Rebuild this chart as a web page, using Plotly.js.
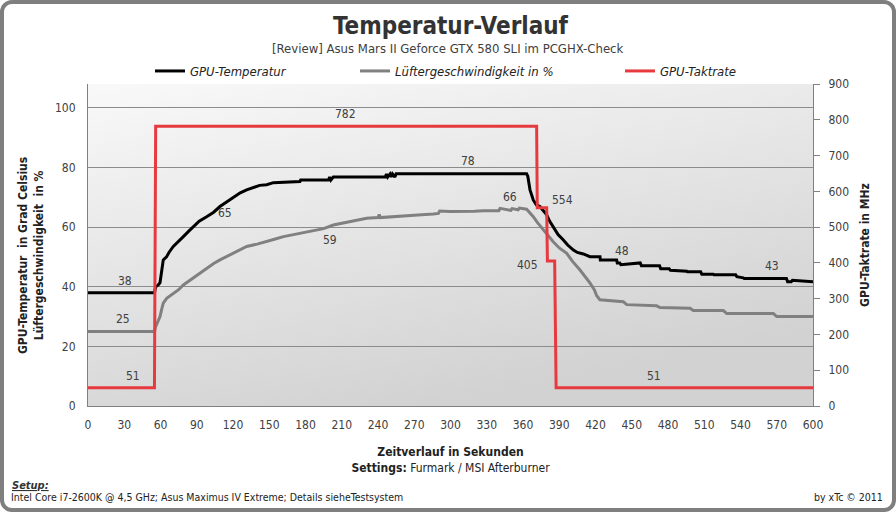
<!DOCTYPE html>
<html>
<head>
<meta charset="utf-8">
<script src="https://cdn.plot.ly/plotly-3.0.1.min.js"></script>
<style>
  html, body { margin: 0; padding: 0; background: #ffffff; }
  #wrap { position: relative; width: 896px; height: 512px; }
  #chart { position: absolute; left: 0; top: 0; width: 896px; height: 512px; }
  #frame { position: absolute; left: 0; top: 0; width: 896px; height: 512px; box-sizing: border-box;
           border: 4px solid #7f7f7f; border-radius: 12px; pointer-events: none; }
</style>
</head>
<body>
<div id="wrap"><div id="chart"></div><div id="frame"></div></div>
<script>
// ---------------- DATA ----------------
// GPU temperature (°C)
const tempTime = [0, 55, 56, 58, 59.6, 61, 62.3, 65, 67, 70.6, 74, 78.9, 83, 87.2, 92, 98.2, 104, 109.2, 115, 120.3, 126, 131.3, 136.8, 142, 147.9, 153.4, 175.4, 176, 199, 200, 201, 203, 215, 246, 247, 248, 250, 251, 252, 254, 255, 363, 364, 365.8, 368.5, 371, 374, 377, 379.6, 382, 385, 389, 393.4, 397, 401.7, 405, 409.9, 415.4, 423.7, 424, 437.5, 438, 440, 441, 457, 458, 473, 474, 481, 482, 495.5, 496, 507, 508, 517.5, 518, 536, 537, 542.3, 543, 578, 579, 582, 583, 600];
const tempValue = [38, 38, 40, 40.5, 41.4, 45, 49, 50, 51.5, 53.5, 55, 56.8, 58.5, 60.2, 62, 63.5, 65, 66.9, 68.5, 70.2, 71.5, 72.5, 73.4, 74, 74.2, 74.9, 75.3, 75.8, 75.8, 76.8, 75.8, 76.8, 76.8, 76.8, 77.8, 76.8, 77.8, 76.8, 77.8, 76.8, 77.9, 77.9, 77, 72.5, 69.1, 67.5, 66.9, 65.5, 64.1, 62, 60.2, 57.5, 55.7, 54, 52.3, 51.5, 51, 50.1, 50.1, 49, 49, 48, 48, 47.4, 48, 47, 47, 46, 46, 45.5, 45.2, 45, 45, 44.2, 44.2, 44, 44, 43.4, 43, 42.8, 42.8, 41.7, 41.7, 42.2, 41.7];

// Fan speed (%)
const fanTime = [0, 55, 56, 58, 59.6, 61, 62.3, 65.1, 70.6, 75, 78.9, 83, 87.2, 92, 98.2, 104, 109.2, 115, 120.3, 126, 131.3, 140, 147.9, 155, 161.7, 168, 175.4, 189.2, 195, 203, 216.8, 230.6, 240, 241, 242, 258.2, 270, 285.8, 290, 291, 299.6, 320, 327, 340, 341, 350, 351, 356, 357, 363, 368.5, 372, 376.8, 385, 390, 396.2, 401, 407.2, 415.5, 419, 421, 423.7, 443, 445.8, 470.6, 473.4, 498.2, 501, 525.8, 528.6, 567.2, 570, 600];
const fanValue = [25, 25, 26.6, 28.5, 30, 32.5, 34.5, 36.1, 37.8, 39, 40.6, 41.8, 42.8, 44.5, 46.2, 47.8, 49, 50.2, 51.2, 52.5, 53.5, 54.3, 55.1, 56, 56.8, 57.3, 58, 59, 59.5, 60.7, 61.9, 63, 63.2, 64.2, 63.2, 63.8, 64, 64.4, 64.6, 65.4, 65.2, 65.3, 65.5, 65.5, 66.3, 65.6, 66.2, 65.8, 66.4, 66, 63.5, 61.5, 59, 55.1, 53, 51.2, 48.5, 45.6, 41.2, 39, 37, 35.6, 35, 34, 33.6, 33, 32.8, 32, 32, 31, 31, 30, 30];

// GPU clock (MHz)
const clockTime = [0, 55, 56, 371.3, 371.8, 379.6, 380.2, 386.2, 387.4, 600];
const clockValue = [51, 51, 782, 782, 554, 554, 405, 405, 51, 51];

// Data labels: series, time of labelled point, value, placement
const labelSeries = ['temp', 'fan', 'clock', 'temp', 'fan', 'clock', 'temp', 'fan', 'clock', 'clock', 'temp', 'temp', 'clock'];
const labelTime   = [31, 29, 37, 103, 189, 213.5, 314.5, 349, 379, 380.5, 442, 566, 468];
const labelValue  = [38, 25, 51, 65, 59, 782, 78, 66, 554, 405, 48, 43, 51];
const labelPos    = ['above', 'above', 'above', 'right', 'belowright', 'above', 'above', 'above', 'aboveright', 'left', 'above', 'above', 'above'];

const xTicks = [0, 30, 60, 90, 120, 150, 180, 210, 240, 270, 300, 330, 360, 390, 420, 450, 480, 510, 540, 570, 600];
const yLeftTicks = [0, 20, 40, 60, 80, 100];
const yRightTicks = [0, 100, 200, 300, 400, 500, 600, 700, 800, 900];

const seriesNames = ['GPU-Temperatur', 'Lüftergeschwindigkeit in %', 'GPU-Taktrate'];

// ---------------- LAYOUT HELPERS ----------------
const W = 896, H = 512;
const M = {l: 88, r: 83, t: 84, b: 106};
const plotW = W - M.l - M.r, plotH = H - M.t - M.b;
const px = x => (x - M.l) / plotW;          // pixel -> paper x
const py = y => (M.t + plotH - y) / plotH;  // pixel -> paper y

const FONT = '"DejaVu Sans Condensed", "DejaVu Sans", sans-serif';
const TXT = '#404040';

const colors = {temp: '#000000', fan: '#808080', clock: '#e63a3f'};

const traces = [
  {x: tempTime, y: tempValue, name: seriesNames[0], type: 'scatter', mode: 'lines',
   line: {color: colors.temp, width: 3}, xaxis: 'x', yaxis: 'y', legend: 'legend', hoverinfo: 'skip'},
  {x: fanTime, y: fanValue, name: seriesNames[1], type: 'scatter', mode: 'lines',
   line: {color: colors.fan, width: 3}, xaxis: 'x', yaxis: 'y', legend: 'legend2', hoverinfo: 'skip'},
  {x: clockTime, y: clockValue, name: seriesNames[2], type: 'scatter', mode: 'lines',
   line: {color: colors.clock, width: 3}, xaxis: 'x', yaxis: 'y2', legend: 'legend3', hoverinfo: 'skip'}
];

const annotations = labelTime.map((t, i) => {
  const s = labelSeries[i];
  const a = {x: t, y: labelValue[i], xref: 'x', yref: s === 'clock' ? 'y2' : 'y',
             text: String(labelValue[i]), showarrow: false,
             font: {family: FONT, size: 12, color: TXT}};
  const p = labelPos[i];
  if (p === 'above') { a.xanchor = 'center'; a.yanchor = 'middle'; a.yshift = 12; }
  else if (p === 'right') { a.xanchor = 'left'; a.yanchor = 'middle'; a.xshift = 4; a.yshift = -1; }
  else if (p === 'belowright') { a.xanchor = 'left'; a.yanchor = 'middle'; a.xshift = 5; a.yshift = -10; }
  else if (p === 'aboveright') { a.xanchor = 'left'; a.yanchor = 'middle'; a.xshift = 4; a.yshift = 8; }
  else { a.xanchor = 'right'; a.yanchor = 'middle'; a.xshift = -8; a.yshift = -4; }
  return a;
});

annotations.push(
  {xref: 'paper', yref: 'paper', x: 0.5, y: py(26), xanchor: 'center', yanchor: 'middle', showarrow: false,
   text: '<b>Temperatur-Verlauf</b>', font: {family: FONT, size: 24, color: '#333333'}},
  {xref: 'paper', yref: 'paper', x: px(448), y: py(48), xanchor: 'center', yanchor: 'middle', showarrow: false,
   text: '[Review] Asus Mars II Geforce GTX 580 SLI im PCGHX-Check', font: {family: FONT, size: 13, color: TXT}},
  {xref: 'paper', yref: 'paper', x: px(31), y: py(256), xanchor: 'center', yanchor: 'middle', showarrow: false,
   textangle: -90,
   text: '<b>GPU-Temperatur  in Grad Celsius<br>Lüftergeschwindigkeit  in %</b>',
   font: {family: FONT, size: 12, color: '#222222'}},
  {xref: 'paper', yref: 'paper', x: px(10), y: py(485), xanchor: 'left', yanchor: 'middle', showarrow: false,
   text: '<b><i><u>Setup:</u></i></b>', font: {family: FONT, size: 11, color: '#333333'}},
  {xref: 'paper', yref: 'paper', x: px(9), y: py(497), xanchor: 'left', yanchor: 'middle', showarrow: false,
   text: 'Intel Core i7-2600K @ 4,5 GHz; Asus Maximus IV Extreme; Details sieheTestsystem', font: {family: FONT, size: 10.5, color: '#222222'}},
  {xref: 'paper', yref: 'paper', x: px(885), y: py(497), xanchor: 'right', yanchor: 'middle', showarrow: false,
   text: 'by xTc © 2011', font: {family: FONT, size: 10.5, color: '#222222'}}
);

const gradSvg = '<svg xmlns="http://www.w3.org/2000/svg" width="725" height="322" viewBox="0 0 725 322" preserveAspectRatio="none">' +
  '<defs><linearGradient id="g" x1="0" y1="0" x2="0.45" y2="1">' +
  '<stop offset="0" stop-color="#f9f9f9"/><stop offset="1" stop-color="#d2d2d2"/></linearGradient></defs>' +
  '<rect width="725" height="322" fill="url(#g)"/></svg>';

const legendBase = {orientation: 'h', yanchor: 'middle', y: py(71), xanchor: 'left',
  font: {family: FONT, size: 13, color: '#222222', style: 'italic'}, bgcolor: 'rgba(0,0,0,0)', borderwidth: 0};

const layout = {
  width: W, height: H,
  margin: M,
  paper_bgcolor: '#ffffff',
  plot_bgcolor: 'rgba(0,0,0,0)',
  showlegend: true,
  legend: Object.assign({}, legendBase, {x: px(150)}),
  legend2: Object.assign({}, legendBase, {x: px(355)}),
  legend3: Object.assign({}, legendBase, {x: px(620)}),
  images: [{source: 'data:image/svg+xml;charset=utf-8,' + encodeURIComponent(gradSvg),
            xref: 'paper', yref: 'paper', x: 0, y: 1, sizex: 1, sizey: 1,
            sizing: 'stretch', layer: 'below', xanchor: 'left', yanchor: 'top'}],
  xaxis: {
    range: [0, 600], tickvals: xTicks, ticktext: xTicks.map(String),
    showgrid: false, zeroline: false, showline: true, linecolor: '#808080', linewidth: 1,
    ticks: '', ticklabelstandoff: 8,
    tickfont: {family: FONT, size: 12, color: TXT},
    title: {text: '<b>Zeitverlauf in Sekunden</b><br><b>Settings:</b> Furmark / MSI Afterburner',
            font: {family: FONT, size: 12, color: '#222222'}, standoff: 16}
  },
  yaxis: {
    range: [0, 108], tickvals: yLeftTicks, ticktext: yLeftTicks.map(String),
    showgrid: true, gridcolor: '#8c8c8c', gridwidth: 1, zeroline: false,
    showline: true, linecolor: '#808080', linewidth: 1, ticks: '', ticklabelstandoff: 9,
    tickfont: {family: FONT, size: 12, color: TXT}
  },
  yaxis2: {
    range: [0, 900], overlaying: 'y', side: 'right', tickvals: yRightTicks, ticktext: yRightTicks.map(String),
    showgrid: false, zeroline: false, showline: true, linecolor: '#808080', linewidth: 1,
    ticks: 'outside', ticklen: 6, tickcolor: '#808080', ticklabelstandoff: 6,
    tickfont: {family: FONT, size: 12, color: TXT},
    title: {text: '<b>GPU-Taktrate in MHz</b>', font: {family: FONT, size: 12, color: '#222222'}, standoff: 12}
  },
  annotations: annotations
};

Plotly.newPlot('chart', traces, layout, {displayModeBar: false, staticPlot: true});
</script>
</body>
</html>
